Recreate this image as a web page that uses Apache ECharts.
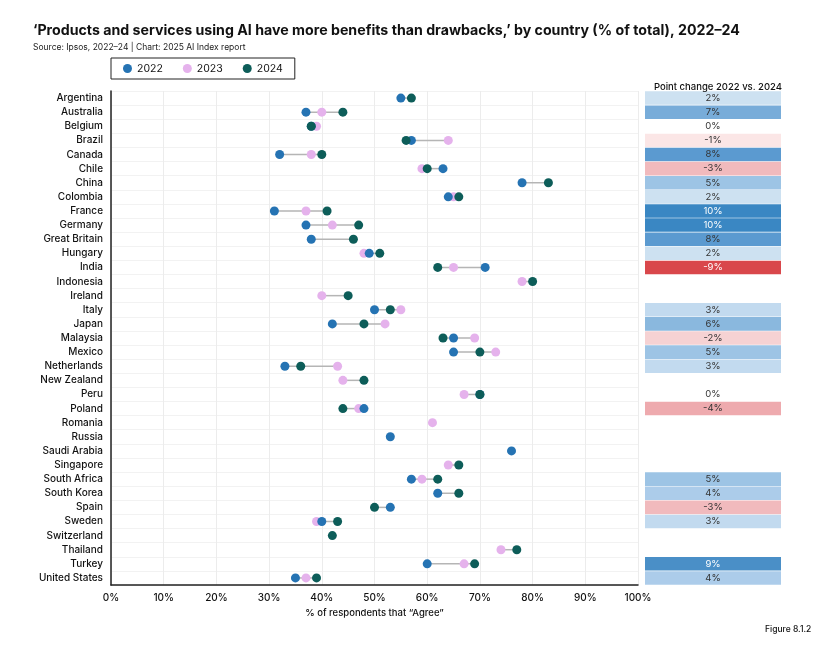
<!DOCTYPE html>
<html><head><meta charset="utf-8">
<script src="https://cdn.jsdelivr.net/npm/echarts@6/dist/echarts.min.js"></script>
<style>html,body{margin:0;padding:0;background:#fff}#c{width:815px;height:654px}</style>
</head><body><div id="c"></div>
<script>
const countries=["Argentina","Australia","Belgium","Brazil","Canada","Chile","China","Colombia","France","Germany","Great Britain","Hungary","India","Indonesia","Ireland","Italy","Japan","Malaysia","Mexico","Netherlands","New Zealand","Peru","Poland","Romania","Russia","Saudi Arabia","Singapore","South Africa","South Korea","Spain","Sweden","Switzerland","Thailand","Turkey","United States"];
const v2022=[55,37,38,57,32,63,78,64,31,37,38,49,71,null,null,50,42,65,65,33,null,70,48,null,53,76,null,57,62,53,40,null,null,60,35];
const v2023=[null,40,39,64,38,59,null,65,37,42,null,48,65,78,40,55,52,69,73,43,44,67,47,61,null,null,64,59,null,null,39,null,74,67,37];
const v2024=[57,44,38,56,40,60,83,66,41,47,46,51,62,80,45,53,48,63,70,36,48,70,44,null,null,null,66,62,66,50,43,42,77,69,39];
const change=[2,7,0,-1,8,-3,5,2,10,10,8,2,-9,null,null,3,6,-2,5,3,null,0,-4,null,null,null,null,5,4,-3,3,null,null,9,4];
const xTicks=["0%","10%","20%","30%","40%","50%","60%","70%","80%","90%","100%"];

function chColor(v){
  const m={10:"#3a87c3",9:"#4a8fc7",8:"#5b9ad0",7:"#78acd9",6:"#8ab8de",5:"#9dc4e5",4:"#acccea",3:"#c2daef",2:"#cde1f1",0:"#ffffff",
  "-1":"#fbe6e6","-2":"#f6d2d3","-3":"#f1babd","-4":"#eeaaae","-9":"#d9474b"};
  return m[v];
}
const ranges=countries.map((c,i)=>{const a=[v2022[i],v2023[i],v2024[i]].filter(x=>x!=null);return [Math.min(...a),Math.max(...a),i];});
const chart=echarts.init(document.getElementById('c'));
const font="Inter, 'Noto Sans', sans-serif";
const catAxis=(gi,show)=>({type:'category',gridIndex:gi,data:countries,inverse:true,
  axisLine:{show:show,lineStyle:{color:'#222',width:1.5}},axisTick:{show:false},
  axisLabel:{show:show,interval:0,color:'#111',fontSize:10,fontFamily:font,fontWeight:500,margin:8},
  splitLine:{show:show,interval:0,lineStyle:{color:'#f2f2f2'}}});
const dot=(name,data,color)=>({name:name,type:'scatter',data:data.map((v,i)=>v==null?null:[v,i]),symbolSize:9,
  itemStyle:{color:color,opacity:1},z:3});
chart.setOption({
  animation:false,
  title:[{text:"‘Products and services using AI have more benefits than drawbacks,’ by country (% of total), 2022–24",left:28,top:19,
    textStyle:{fontSize:14.2,fontWeight:'bold',color:'#111',fontFamily:font}},
   {text:"Source: Ipsos, 2022–24 | Chart: 2025 AI Index report",left:28,top:38,textStyle:{fontSize:8.5,fontWeight:'normal',color:'#222',fontFamily:font}},
   {text:"Point change 2022 vs. 2024",left:713,top:77,textAlign:'center',textStyle:{fontSize:9.5,fontWeight:500,color:'#111',fontFamily:font}},
   {text:"Figure 8.1.2",left:760,top:620,textStyle:{fontSize:8.5,fontWeight:500,color:'#111',fontFamily:font}}],
  legend:{left:111,top:58,itemWidth:9,itemHeight:9,itemGap:20,borderColor:'#222',borderWidth:1,padding:[5,12],
    textStyle:{fontSize:10.5,color:'#111',fontFamily:font},data:['2022','2023','2024']},
  grid:[{left:111,right:177,top:91,bottom:69},{left:645,right:34,top:91,bottom:69}],
  xAxis:[{type:'value',gridIndex:0,min:0,max:100,interval:10,
    axisLabel:{formatter:v=>xTicks[v/10],color:'#111',fontSize:10,fontFamily:font,fontWeight:500},
    axisLine:{show:true,lineStyle:{color:'#222',width:1.5}},axisTick:{show:false},
    splitLine:{lineStyle:{color:'#ececec'}},
    name:"% of respondents that “Agree”",nameLocation:'middle',nameGap:22,nameTextStyle:{fontSize:9.5,color:'#111',fontFamily:font,fontWeight:500}},
   {type:'value',gridIndex:1,min:0,max:1,show:false}],
  yAxis:[catAxis(0,true),catAxis(1,false)],
  series:[
   {type:'custom',xAxisIndex:0,yAxisIndex:0,data:ranges,z:1,renderItem:(p,api)=>{
      const a=api.coord([api.value(0),api.value(2)]),b=api.coord([api.value(1),api.value(2)]);
      return {type:'line',shape:{x1:a[0],y1:a[1],x2:b[0],y2:b[1]},style:{stroke:'#b5b5b5',lineWidth:1.5}};}},
   dot('2023',v2023,'#e5b2ec'),
   dot('2022',v2022,'#2573b3'),
   dot('2024',v2024,'#0d5d59'),
   {type:'bar',xAxisIndex:1,yAxisIndex:1,barWidth:'96%',silent:true,
    data:change.map(v=>v==null?{value:0}:{value:1,itemStyle:{color:chColor(v)},
      label:{show:true,position:'inside',formatter:v+'%',fontSize:9.5,fontFamily:font,
        color:(Math.abs(v)>=9)?'#fff':'#333'}})}
  ]
});
</script></body></html>
